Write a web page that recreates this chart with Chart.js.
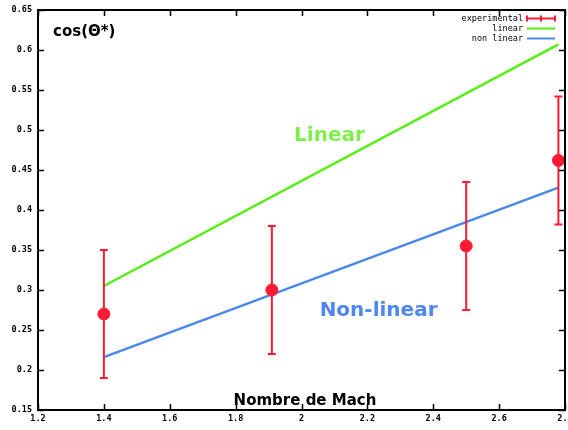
<!DOCTYPE html>
<html>
<head>
<meta charset="utf-8">
<script src="https://cdn.jsdelivr.net/npm/chart.js@4/dist/chart.umd.min.js"></script>
<style>
  html, body { margin: 0; padding: 0; background: #fff; }
  #wrap { width: 568px; height: 430px; }
</style>
</head>
<body>
<div id="wrap"><canvas id="c" width="568" height="430"></canvas></div>
<script>
// ---- data ----
const machExp = [1.4, 1.91, 2.5, 2.78];
const cosExp = [0.27, 0.30, 0.355, 0.462];
const errLow = [0.19, 0.22, 0.275, 0.382];
const errHigh = [0.35, 0.38, 0.435, 0.542];
const machFit = [1.4, 2.78];
const cosLinear = [0.305, 0.607];
const cosNonLinear = [0.216, 0.428];
const seriesLabels = ['experimental', 'linear', 'non linear'];
const xTicks = [1.2, 1.4, 1.6, 1.8, 2, 2.2, 2.4, 2.6, 2.8];
const yTicks = [0.15, 0.2, 0.25, 0.3, 0.35, 0.4, 0.45, 0.5, 0.55, 0.6, 0.65];
const annotations = [
  { text: 'Linear', x: 2.085, y: 0.486, color: '#7fee4a' },
  { text: 'Non-linear', x: 2.234, y: 0.268, color: '#4f86f4' }
];
const yTitle = 'cos(\u0398*)';
const xTitle = 'Nombre de Mach';

const RED = '#ff1a33', GREEN = '#55ee11', BLUE = '#4a88ee';

const gnuplotFrame = {
  id: 'gnuplotFrame',
  afterDatasetsDraw(chart) {
    const { ctx, chartArea: a, scales: { x, y } } = chart;
    ctx.save();
    // error bars
    ctx.strokeStyle = RED; ctx.lineWidth = 2;
    machExp.forEach((m, i) => {
      const px = x.getPixelForValue(m);
      const lo = y.getPixelForValue(errLow[i]);
      const hi = y.getPixelForValue(errHigh[i]);
      ctx.beginPath();
      ctx.moveTo(px, lo); ctx.lineTo(px, hi);
      ctx.moveTo(px - 4, lo); ctx.lineTo(px + 4, lo);
      ctx.moveTo(px - 4, hi); ctx.lineTo(px + 4, hi);
      ctx.stroke();
    });
    // border
    ctx.strokeStyle = '#000'; ctx.lineWidth = 2;
    ctx.strokeRect(a.left, a.top, a.right - a.left, a.bottom - a.top);
    // inward ticks
    ctx.lineWidth = 1.5;
    ctx.beginPath();
    xTicks.forEach(v => {
      const p = Math.round(x.getPixelForValue(v)) + 0.5;
      ctx.moveTo(p, a.bottom); ctx.lineTo(p, a.bottom - 6);
      ctx.moveTo(p, a.top); ctx.lineTo(p, a.top + 6);
    });
    yTicks.forEach(v => {
      const p = Math.round(y.getPixelForValue(v)) + 0.5;
      ctx.moveTo(a.left, p); ctx.lineTo(a.left + 6, p);
      ctx.moveTo(a.right, p); ctx.lineTo(a.right - 6, p);
    });
    ctx.stroke();
    // annotations
    ctx.textAlign = 'center'; ctx.textBaseline = 'alphabetic';
    ctx.font = 'bold 20px "DejaVu Sans", sans-serif';
    annotations.forEach(an => {
      ctx.fillStyle = an.color;
      ctx.fillText(an.text, x.getPixelForValue(an.x), y.getPixelForValue(an.y));
    });
    ctx.fillStyle = '#000';
    ctx.font = 'bold 15px "DejaVu Sans", sans-serif';
    ctx.fillText(xTitle, (a.left + a.right) / 2 + 3.5, a.bottom - 5);
    ctx.textAlign = 'left';
    ctx.fillText(yTitle, a.left + 15, a.top + 26);
    // legend
    ctx.font = '8.5px "DejaVu Sans Mono", monospace';
    ctx.textAlign = 'right'; ctx.textBaseline = 'middle';
    const colors = [RED, GREEN, BLUE];
    const lx = a.right - 42, sx0 = a.right - 38, sx1 = a.right - 10;
    seriesLabels.forEach((lab, i) => {
      const ly = a.top + 8.5 + i * 10;
      ctx.fillStyle = '#000';
      ctx.fillText(lab, lx, ly);
      ctx.strokeStyle = colors[i]; ctx.lineWidth = 2;
      ctx.beginPath(); ctx.moveTo(sx0, ly); ctx.lineTo(sx1, ly); ctx.stroke();
      if (i === 0) {
        ctx.beginPath();
        [sx0, (sx0 + sx1) / 2, sx1].forEach(t => { ctx.moveTo(t, ly - 3); ctx.lineTo(t, ly + 3); });
        ctx.stroke();
      }
    });
    ctx.restore();
  }
};

new Chart(document.getElementById('c'), {
  type: 'scatter',
  data: {
    datasets: [
      {
        label: seriesLabels[0],
        data: machExp.map((m, i) => ({ x: m, y: cosExp[i] })),
        backgroundColor: RED, borderColor: RED,
        pointRadius: 6, pointHoverRadius: 6, showLine: false, order: 0
      },
      {
        label: seriesLabels[1],
        data: machFit.map((m, i) => ({ x: m, y: cosLinear[i] })),
        borderColor: GREEN, borderWidth: 2.5, pointRadius: 0, showLine: true, order: 2
      },
      {
        label: seriesLabels[2],
        data: machFit.map((m, i) => ({ x: m, y: cosNonLinear[i] })),
        borderColor: BLUE, borderWidth: 2.5, pointRadius: 0, showLine: true, order: 1
      }
    ]
  },
  options: {
    responsive: false,
    animation: false,
    events: [],
    layout: { padding: { top: 10, right: 3, left: 0, bottom: 0 } },
    plugins: { legend: { display: false }, tooltip: { enabled: false } },
    scales: {
      x: {
        type: 'linear', min: 1.2, max: 2.8,
        afterBuildTicks: s => { s.ticks = xTicks.map(v => ({ value: v })); },
        ticks: {
          color: '#000', font: { family: 'DejaVu Sans Mono', size: 8.5, weight: 'bold' },
          padding: 4, maxRotation: 0, autoSkip: false,
          callback: v => String(Number(v.toFixed(2)))
        },
        grid: { display: false, drawTicks: false },
        border: { display: false },
        afterFit: s => { s.height = 20; s.paddingLeft = 0; s.paddingRight = 0; },
        afterCalculateLabelRotation: s => { s.paddingLeft = 0; s.paddingRight = 0; }
      },
      y: {
        type: 'linear', min: 0.15, max: 0.65,
        afterBuildTicks: s => { s.ticks = yTicks.map(v => ({ value: v })); },
        ticks: {
          color: '#000', font: { family: 'DejaVu Sans Mono', size: 8.5, weight: 'bold' },
          padding: 6, autoSkip: false,
          callback: v => String(Number(v.toFixed(2)))
        },
        grid: { display: false, drawTicks: false },
        border: { display: false },
        afterFit: s => { s.width = 38; s.paddingTop = 0; s.paddingBottom = 0; s.paddingLeft = 0; s.paddingRight = 0; }
      }
    }
  },
  plugins: [gnuplotFrame, {
    id: 'fixArea',
    afterLayout(chart) {
      // keep the plot frame where the reference has it
      const a = chart.chartArea;
      const target = chart.width - 3;
      if (Math.abs(a.right - target) > 0.5) {
        a.right = target; a.width = a.right - a.left;
        const x = chart.scales.x;
        x.right = target; x.width = x.right - x.left;
        x.configure();
      }
    }
  }]
});
</script>
</body>
</html>
